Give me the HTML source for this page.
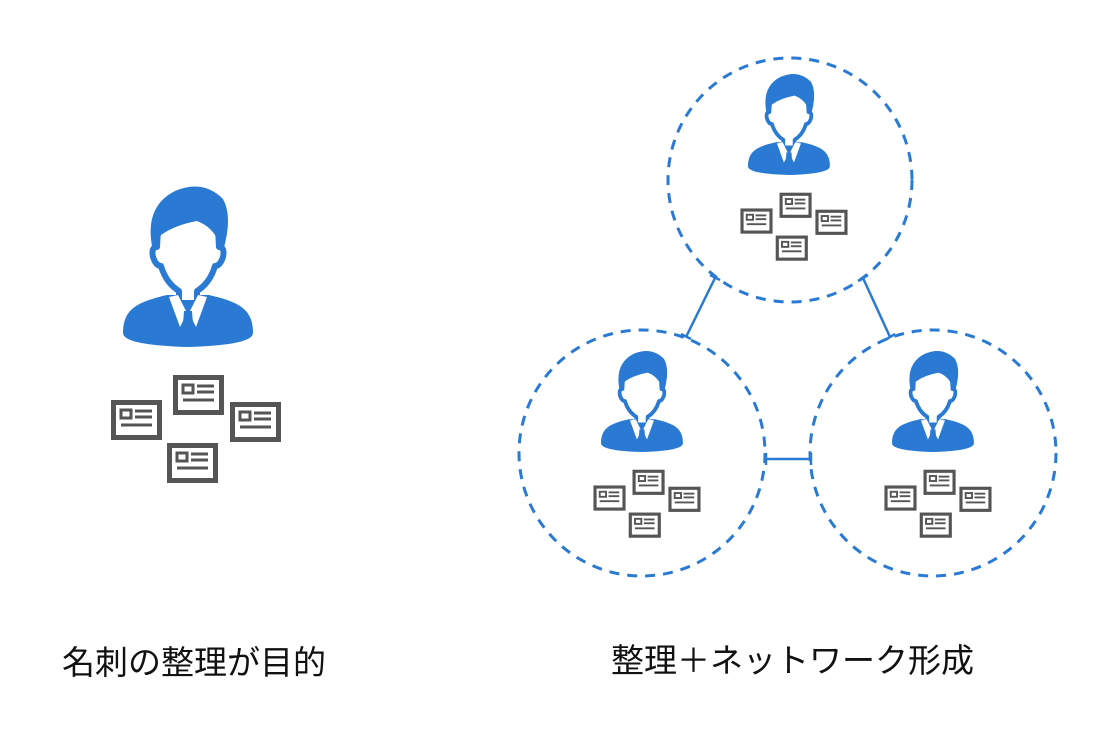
<!DOCTYPE html>
<html><head><meta charset="utf-8"><style>
html,body{margin:0;padding:0;background:#fff;}
svg{display:block;}
text{font-family:"Liberation Sans","Noto Sans CJK JP",sans-serif;fill:#111;}
</style></head><body>
<svg width="1108" height="739" viewBox="0 0 1108 739" xmlns="http://www.w3.org/2000/svg">
<defs>
<g id="card">
  <rect x="2.5" y="2.5" width="46" height="35" fill="#fff" stroke="#555" stroke-width="5"/>
  <rect x="10" y="10" width="10" height="8" fill="none" stroke="#555" stroke-width="3"/>
  <line x1="24" y1="11" x2="41" y2="11" stroke="#555" stroke-width="3"/>
  <line x1="24" y1="17" x2="41" y2="17" stroke="#555" stroke-width="3"/>
  <line x1="10" y1="25" x2="41" y2="25" stroke="#555" stroke-width="3"/>
</g>
<g id="unit">
  <path d="M0,148 C0,124 14,117 44,110 L86,110 C116,117 130,124 130,148 Q130,160 65,162 Q0,160 0,148 Z" fill="#2a7ad3"/>
  <path d="M36,26 L34,62 Q28,62 30,72 Q33,81 38,81 Q43,98 56,106 L56,118 L74,118 L74,106 Q87,98 92,81 Q97,81 100,72 Q102,62 96,62 L94,26 Z" fill="#fff" stroke="#2a7ad3" stroke-width="6" stroke-linejoin="round"/>
  <path d="M30,66 Q20,22 52,6 Q80,-6 100,14 Q110,32 100,66 L96,58 Q90,42 74,36 Q52,40 38,50 Z" fill="#2a7ad3"/>
  <path d="M46,112 L55,110 L64,128 L57,142 Z" fill="#fff"/>
  <path d="M84,112 L75,110 L66,128 L73,142 Z" fill="#fff"/>
  <path d="M61,126 L69,126 L71,152 L65,160 L59,152 Z" fill="#2a7ad3"/>
  <use href="#card" x="50" y="190"/>
  <use href="#card" x="-12" y="215"/>
  <use href="#card" x="107" y="217"/>
  <use href="#card" x="44" y="258"/>
</g>
</defs>

<use href="#unit" transform="translate(123,185)"/>

<g fill="none" stroke="#2a7ad3" stroke-width="3" stroke-dasharray="10 8">
  <circle cx="790" cy="180" r="122"/>
  <circle cx="642" cy="453" r="123"/>
  <circle cx="933" cy="453" r="123"/>
</g>

<g stroke="#2a7ad3" stroke-width="2.5" fill="none">
  <line x1="715" y1="278" x2="686" y2="337"/>
  <line x1="710" y1="275" x2="720" y2="280"/>
  <line x1="681" y1="334" x2="691" y2="339"/>
  <line x1="863" y1="278" x2="890" y2="337"/>
  <line x1="858" y1="281" x2="868" y2="275"/>
  <line x1="885" y1="340" x2="895" y2="334"/>
  <line x1="766" y1="459" x2="811" y2="459"/>
  <line x1="766" y1="453" x2="766" y2="465"/>
  <line x1="811" y1="453" x2="811" y2="465"/>
</g>

<use href="#unit" transform="translate(748,73) scale(0.63)"/>
<use href="#unit" transform="translate(601,350) scale(0.63)"/>
<use href="#unit" transform="translate(892,350) scale(0.63)"/>

<text x="62" y="674" font-size="33">名刺の整理が目的</text>
<text x="611" y="672" font-size="33">整理＋ネットワーク形成</text>
</svg>
</body></html>
